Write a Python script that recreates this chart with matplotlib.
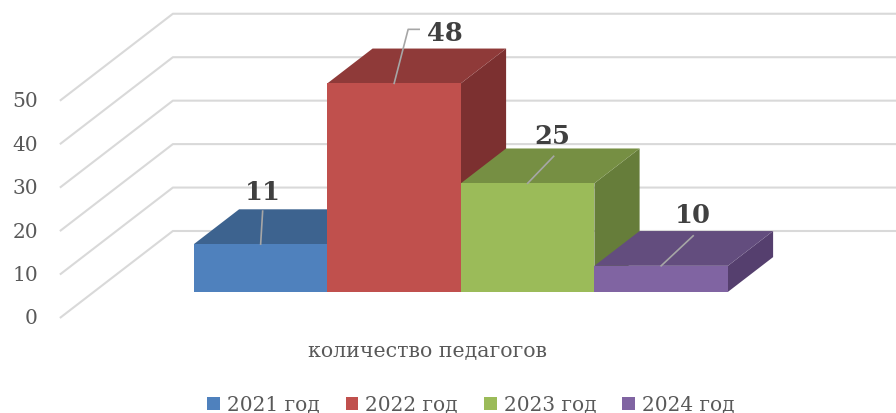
import matplotlib
matplotlib.use("Agg")
import matplotlib.pyplot as plt
from matplotlib.patches import Polygon, Patch
from matplotlib.font_manager import FontProperties

# ---------------- data ----------------
categories = ["2021 год", "2022 год", "2023 год", "2024 год"]
bar_values = [11, 48, 25, 6]          # bar heights as drawn
label_texts = ["11", "48", "25", "10"]  # data labels as printed
y_ticks = [0, 10, 20, 30, 40, 50]
category_label = "количество педагогов"

front_colors = ["#4F81BD", "#C0504D", "#9BBB59", "#8064A2"]
top_colors = ["#3D638F", "#8F3A39", "#768F43", "#634D7E"]
side_colors = ["#345579", "#7C3030", "#667D3A", "#553F6E"]

# ---------------- projection set-up ----------------
W, H = 896, 414
PXX = 133.5      # pixels per category unit
PXY = 4.345      # pixels per value unit
X0PX = 160       # pixel x of category 0 at front of floor
Y0PX = 95        # pixel y (from bottom) of value 0 at front of floor

DEPTH_X = 113 / PXX   # full floor depth vector in data units
DEPTH_Y = 87 / PXY
BAR_FRONT = 0.30      # bar front as fraction of depth
BAR_DEPTH = 0.40
WALL_LEFT = -0.75

fig = plt.figure(figsize=(W / 100, H / 100), dpi=100)
ax = fig.add_axes([0, 0, 1, 1])
ax.set_xlim(-X0PX / PXX, (W - X0PX) / PXX)
ax.set_ylim(-Y0PX / PXY, (H - Y0PX) / PXY)
ax.axis("off")

FONT = "DejaVu Serif"
GRID = "#D9D9D9"
TXT = "#595959"

# gridlines (side wall slant + back wall horizontal)
for v in y_ticks:
    xs = [WALL_LEFT, WALL_LEFT + DEPTH_X, ax.get_xlim()[1] + 1]
    ys = [v, v + DEPTH_Y, v + DEPTH_Y]
    ax.plot(xs, ys, color=GRID, lw=1.5, solid_capstyle="butt", zorder=1)
    ax.text(WALL_LEFT - 22 / PXX, v, str(v), ha="right", va="center",
            fontsize=14.5, color=TXT, family=FONT)

# bars
fx, fy = BAR_FRONT * DEPTH_X, BAR_FRONT * DEPTH_Y
bdx, bdy = BAR_DEPTH * DEPTH_X, BAR_DEPTH * DEPTH_Y
anchors = []
for i, v in enumerate(bar_values):
    x0, yb = i + fx, fy
    side = [(x0 + 1, yb), (x0 + 1 + bdx, yb + bdy),
            (x0 + 1 + bdx, yb + v + bdy), (x0 + 1, yb + v)]
    top = [(x0, yb + v), (x0 + 1, yb + v),
           (x0 + 1 + bdx, yb + v + bdy), (x0 + bdx, yb + v + bdy)]
    front = [(x0, yb), (x0 + 1, yb), (x0 + 1, yb + v), (x0, yb + v)]
    z = 2 + i * 3
    ax.add_patch(Polygon(side, closed=True, fc=side_colors[i], ec="none", zorder=z))
    ax.add_patch(Polygon(top, closed=True, fc=top_colors[i], ec="none", zorder=z + 1))
    ax.add_patch(Polygon(front, closed=True, fc=front_colors[i], ec="none", zorder=z + 2))
    anchors.append((x0 + 0.5, yb + v))

# data labels with leader lines (offsets in pixels)
label_offsets = [(2, 53), (51, 51), (25, 48), (32, 51)]
leaders = [[(0, 0), (2, 33)],
           [(0, 0), (14, 54), (25, 54)],
           [(0, 0), (26, 27)],
           [(0, 0), (32, 30)]]
for (ax_, ay_), txt, off, ld in zip(anchors, label_texts, label_offsets, leaders):
    ax.plot([ax_ + p[0] / PXX for p in ld], [ay_ + p[1] / PXY for p in ld],
            color="#A6A6A6", lw=1.2, zorder=20)
    ax.text(ax_ + off[0] / PXX, ay_ + off[1] / PXY, txt, ha="center", va="center",
            fontsize=18.5, fontweight="bold", color="#404040", family=FONT, zorder=21)

# category label
ax.text(len(categories) / 2, -33 / PXY, category_label, ha="center", va="center",
        fontsize=14.8, color=TXT, family=FONT)

# legend
handles = [Patch(facecolor=c, edgecolor="none") for c in front_colors]
leg = fig.legend(handles, categories, loc="center", ncol=4,
                 bbox_to_anchor=(471 / W, 8 / H), frameon=False,
                 handlelength=0.62, handleheight=0.62, handletextpad=0.35,
                 columnspacing=1.3,
                 prop=FontProperties(family=FONT, size=14.5))
for t in leg.get_texts():
    t.set_color(TXT)
    t.set_family(FONT)

fig.savefig("out.png", dpi=100)
